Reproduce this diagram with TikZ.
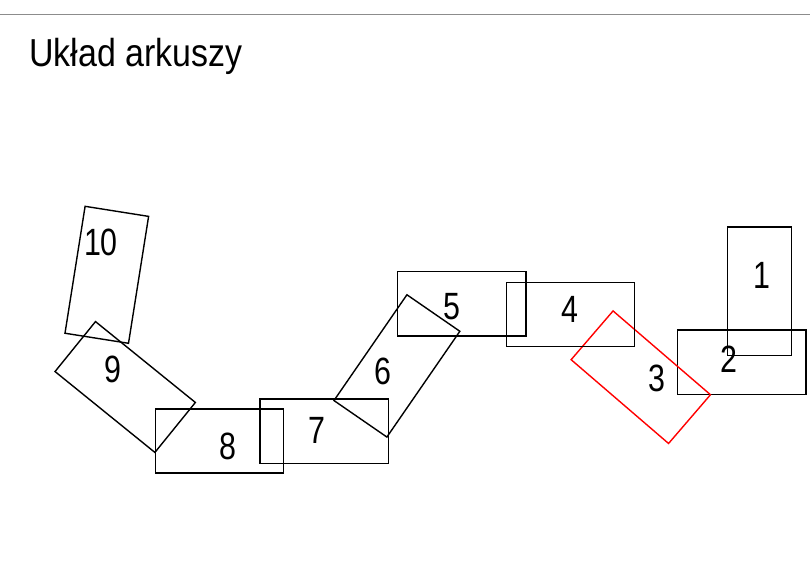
\documentclass[tikz,border=0pt]{standalone}
\usepackage{fontspec}
\newfontfamily\titlefont[FakeStretch=0.87]{Liberation Sans}
\newfontfamily\lblfont[FakeStretch=0.8]{Liberation Sans}
\begin{document}
\begin{tikzpicture}[x=1pt,y=-1pt,
  sheet/.style={draw=black, line width=1.4pt, rectangle, inner sep=0pt,
    minimum width=128.5pt, minimum height=64.3pt},
  redsheet/.style={sheet, draw=red},
  num/.style={inner sep=0pt, font=\lblfont\fontsize{38}{40}\selectfont},
  rule/.style={draw=black!45, line width=1.4pt}]
\useasboundingbox (0,0) rectangle (810,584);
% top rule
\coordinate (ruleL) at (0,14.5);
\coordinate (ruleR) at (810,14.5);
\draw[rule] (ruleL) -- (ruleR);
% title
\node[anchor=base west, inner sep=0pt, font=\titlefont\fontsize{39}{42}\selectfont] (title) at (29,66) {Układ arkuszy};
% sheets
\node[sheet, rotate=90] (r1) at (759.5,291.2) {};
\node[sheet] (r2) at (741.7,362.2) {};
\node[redsheet, rotate=-40.7] (r3) at (640.8,377.2) {};
\node[sheet] (r4) at (570.5,314.5) {};
\node[sheet] (r5) at (461.7,303.9) {};
\node[sheet, rotate=55.4] (r6) at (396.9,365.9) {};
\node[sheet] (r7) at (324.2,431.3) {};
\node[sheet] (r8) at (219.5,441) {};
\node[sheet, rotate=-39] (r9) at (125.2,387) {};
\node[sheet, rotate=81] (r10) at (106.8,274.8) {};
% labels
\node[num] (l1) at (762,275.5) {1};
\node[num] (l2) at (729.3,359) {2};
\node[num] (l3) at (656.7,378.3) {3};
\node[num] (l4) at (569.5,309) {4};
\node[num] (l5) at (451.7,306.7) {5};
\node[num] (l6) at (382.7,371.7) {6};
\node[num] (l7) at (316.7,430) {7};
\node[num] (l8) at (228,446) {8};
\node[num] (l9) at (112.5,369) {9};
\node[num] (l10) at (101,242.5) {10};
\end{tikzpicture}
\end{document}
